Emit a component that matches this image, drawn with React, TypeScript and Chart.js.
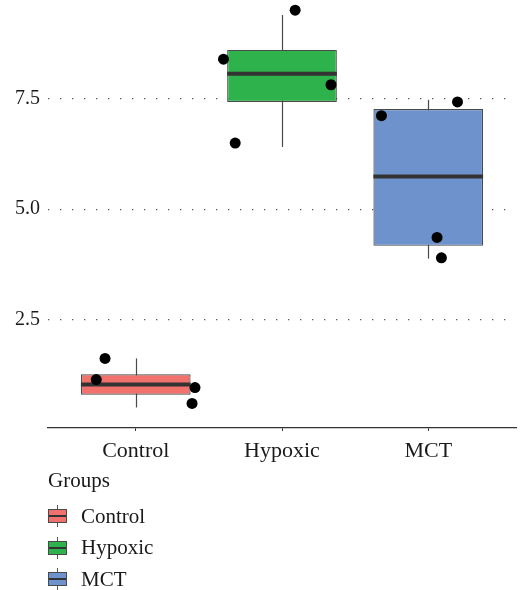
import React, { useEffect, useRef } from "react";
import { Chart, registerables } from "chart.js";
Chart.register(...registerables);

// ---- data ----
const groups = ["Control", "Hypoxic", "MCT"];
const fillColors = ["#F1716C", "#2EB24B", "#6E93CC"];
const whiskerLow = [0.51, 6.41, 3.88];
const q1 = [0.8, 7.43, 4.17];
const medians = [1.03, 8.07, 5.74];
const q3 = [1.26, 8.61, 7.27];
const whiskerHigh = [1.62, 9.4, 7.48];
// individual observations (value) and their horizontal jitter (category units)
const controlValues = [1.62, 1.14, 0.96, 0.6];
const controlJitter = [-0.21, -0.27, 0.405, 0.385];
const hypoxicValues = [9.51, 7.82, 8.4, 6.5];
const hypoxicJitter = [0.09, 0.335, -0.4, -0.32];
const mctValues = [7.43, 7.12, 4.36, 3.9];
const mctJitter = [0.2, -0.32, 0.06, 0.09];
const yTicks = [2.5, 5.0, 7.5];
const legendTitle = "Groups";

const pointValues = [controlValues, hypoxicValues, mctValues];
const pointJitter = [controlJitter, hypoxicJitter, mctJitter];

const FONT = "'Liberation Serif', 'Times New Roman', serif";
const BOX_DATASET = 1;

const boxPlugin = {
  id: "boxDecor",
  beforeDatasetsDraw(chart: any) {
    const { ctx, scales } = chart;
    const xs = scales.x;
    const ys = scales.y;
    ctx.save();
    ctx.strokeStyle = "#4a4a4a";
    ctx.lineWidth = 1.2;
    groups.forEach((_, i) => {
      const x = Math.round(xs.getPixelForValue(i + 1)) + 0.5;
      ctx.beginPath();
      ctx.moveTo(x, ys.getPixelForValue(whiskerLow[i]));
      ctx.lineTo(x, ys.getPixelForValue(whiskerHigh[i]));
      ctx.stroke();
    });
    ctx.restore();
  },
  afterDatasetDraw(chart: any, args: any) {
    if (args.index !== BOX_DATASET) return;
    const { ctx, scales } = chart;
    const ys = scales.y;
    const meta = chart.getDatasetMeta(BOX_DATASET);
    ctx.save();
    ctx.strokeStyle = "#333333";
    ctx.lineWidth = 4;
    meta.data.forEach((bar: any, i: number) => {
      const y = ys.getPixelForValue(medians[i]);
      ctx.beginPath();
      ctx.moveTo(bar.x - bar.width / 2, y);
      ctx.lineTo(bar.x + bar.width / 2, y);
      ctx.stroke();
    });
    ctx.restore();
  },
};

function LegendGlyph({ color }: { color: string }) {
  return (
    <div style={{ position: "relative", width: 19, height: 22 }}>
      <div style={{ position: "absolute", left: 9, top: 0, width: 1, height: 22, background: "#555" }} />
      <div
        style={{
          position: "absolute",
          left: 0,
          top: 4,
          width: 17,
          height: 12,
          background: color,
          border: "1px solid #4a4a4a",
        }}
      />
      <div style={{ position: "absolute", left: 1, top: 10, width: 17, height: 2, background: "#333" }} />
    </div>
  );
}

export default function App() {
  const canvasRef = useRef<HTMLCanvasElement | null>(null);

  useEffect(() => {
    const canvas = canvasRef.current;
    if (!canvas) return;
    const points: { x: number; y: number }[] = [];
    pointValues.forEach((vals, g) => {
      vals.forEach((v, k) => points.push({ x: g + 1 + pointJitter[g][k], y: v }));
    });
    const chart = new Chart(canvas, {
      type: "bar",
      data: {
        datasets: [
          {
            type: "scatter",
            data: points,
            backgroundColor: "#000",
            borderWidth: 0,
            pointRadius: 5.5,
            pointHoverRadius: 5.5,
            clip: false,
          } as any,
          {
            type: "bar",
            data: groups.map((_, i) => ({ x: i + 1, y: [q1[i], q3[i]] })),
            backgroundColor: fillColors,
            borderColor: "#4a4a4a",
            borderWidth: 1.2,
            borderSkipped: false,
            categoryPercentage: 1,
            barPercentage: 0.75,
          } as any,
        ],
      },
      options: {
        animation: false,
        responsive: false,
        maintainAspectRatio: false,
        layout: { autoPadding: false, padding: { left: 0, right: 5, top: 0, bottom: 0 } },
        plugins: { legend: { display: false }, tooltip: { enabled: false } },
        scales: {
          x: {
            type: "linear",
            min: 0.4,
            max: 3.6,
            offset: false,
            afterBuildTicks: (s: any) => {
              s.ticks = groups.map((_, i) => ({ value: i + 1 }));
            },
            afterFit: (s: any) => {
              s.height = 42;
              s.paddingLeft = 0;
              s.paddingRight = 0;
            },
            ticks: {
              callback: (v: any) => groups[Number(v) - 1] ?? "",
              font: { family: FONT, size: 22 },
              color: "#1a1a1a",
              padding: 7,
              maxRotation: 0,
            },
            grid: {
              display: true,
              drawOnChartArea: false,
              drawTicks: true,
              tickLength: 3,
              color: "#333",
              offset: false,
            },
            border: { display: true, color: "#333", width: 1.3 },
          },
          y: {
            type: "linear",
            min: 0.044,
            max: 9.74,
            afterBuildTicks: (s: any) => {
              s.ticks = yTicks.map((v) => ({ value: v }));
            },
            afterFit: (s: any) => {
              s.width = 48;
              s.paddingTop = 0;
              s.paddingBottom = 0;
            },
            ticks: {
              callback: (v: any) => Number(v).toFixed(1),
              font: { family: FONT, size: 20 },
              color: "#1a1a1a",
              padding: 8,
            },
            grid: {
              display: true,
              drawTicks: false,
              color: "#555",
              lineWidth: 1.3,
              borderDash: [1.3, 10.7],
            } as any,
            border: { display: false, dash: [1.3, 10.7] },
          },
        },
      },
      plugins: [boxPlugin],
    });
    return () => chart.destroy();
  }, []);

  return (
    <div style={{ position: "fixed", left: 0, top: 0, width: 521, height: 590, background: "#fff" }}>
      <canvas ref={canvasRef} width={521} height={470} style={{ display: "block", width: 521, height: 470 }} />
      <div
        style={{
          position: "absolute",
          left: 48,
          top: 470,
          fontFamily: FONT,
          fontSize: 21,
          lineHeight: "21px",
          color: "#1a1a1a",
        }}
      >
        {legendTitle}
      </div>
      {groups.map((g, i) => (
        <div
          key={g}
          style={{
            position: "absolute",
            left: 48,
            top: 505 + i * 31.5,
            display: "flex",
            alignItems: "center",
            fontFamily: FONT,
            fontSize: 21,
            lineHeight: "21px",
            color: "#1a1a1a",
          }}
        >
          <LegendGlyph color={fillColors[i]} />
          <span style={{ marginLeft: 14 }}>{g}</span>
        </div>
      ))}
    </div>
  );
}
